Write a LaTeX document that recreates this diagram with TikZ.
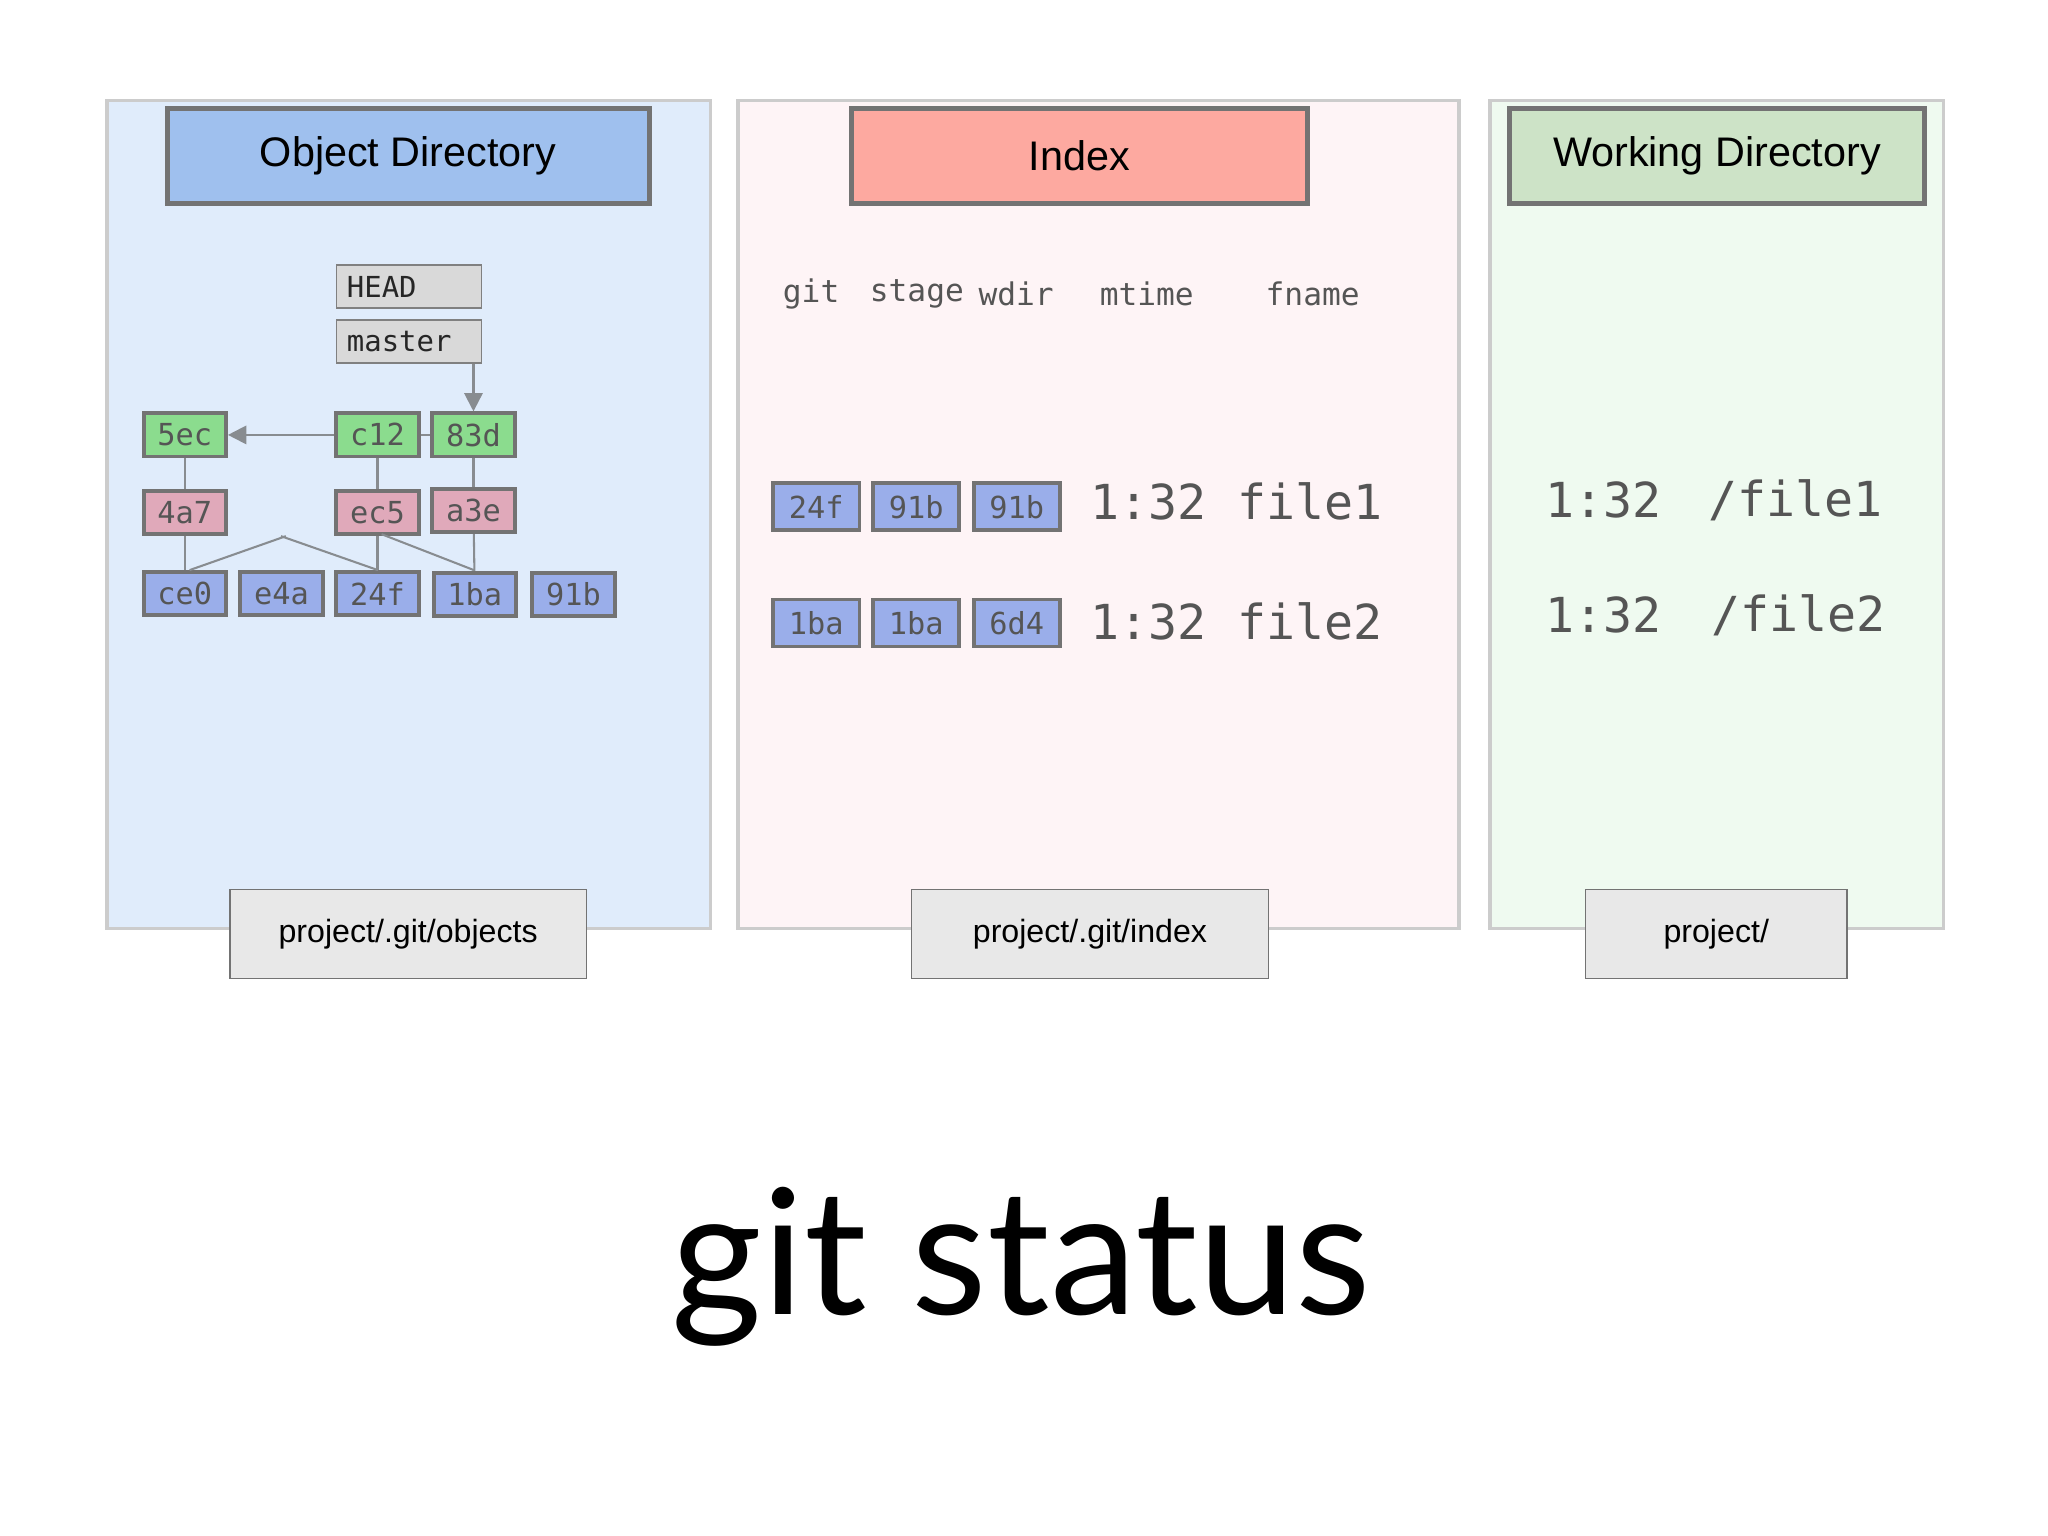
\documentclass[tikz,border=0pt]{standalone}
\usepackage{fontspec}
\setmainfont{Liberation Sans}
\setmonofont{DejaVu Sans Mono}
\newfontfamily\titlefont{Lato}
\usetikzlibrary{positioning,arrows.meta}
\definecolor{objbg}{HTML}{E0ECFB}
\definecolor{objhead}{HTML}{9FC0EE}
\definecolor{idxbg}{HTML}{FEF4F6}
\definecolor{idxhead}{HTML}{FDA9A0}
\definecolor{wdbg}{HTML}{EFFAF0}
\definecolor{wdhead}{HTML}{CDE3C7}
\definecolor{cgreen}{HTML}{8BDC8E}
\definecolor{tpink}{HTML}{E0A9BA}
\definecolor{bblue}{HTML}{9AAEEA}
\definecolor{edgegray}{HTML}{888C90}
\definecolor{txtgray}{HTML}{555555}
\tikzset{
  panel/.style={draw=black!20, line width=0.8pt},
  header/.style={draw=black!55, line width=1.1pt, font=\fontsize{9}{11}\selectfont},
  footer/.style={draw=black!55, fill=black!9, line width=0.35pt, font=\fontsize{7}{9}\selectfont},
  ref/.style={draw=black!50, fill=black!15, line width=0.35pt, anchor=west,
    minimum width=1.11cm, minimum height=0.33cm, text width=0.95cm, align=left, inner sep=0pt,
    font=\ttfamily\fontsize{6.3}{7}\selectfont, text=black!85},
  hash/.style={draw=black!55, line width=0.85pt, minimum width=0.63cm, minimum height=0.33cm,
    inner sep=0pt, font=\ttfamily\fontsize{6.6}{8}\selectfont, text=txtgray},
  commit/.style={hash, fill=cgreen},
  tree/.style={hash, fill=tpink},
  blob/.style={hash, fill=bblue},
  link/.style={draw=edgegray, line width=0.45pt},
  point/.style={link, -{Triangle[length=4pt,width=4pt]}},
  colhead/.style={font=\ttfamily\fontsize{6.8}{8}\selectfont, text=txtgray},
  big/.style={font=\ttfamily\fontsize{10.5}{12}\selectfont, text=txtgray}
}
\begin{document}
\begin{tikzpicture}[x=0.01cm, y=-0.01cm]
  \useasboundingbox (0,0) rectangle (1568,1176);

  % panels
  \draw[panel, fill=objbg] (82,77) rectangle (544,711);
  \draw[panel, fill=idxbg] (565,77) rectangle (1117,711);
  \draw[panel, fill=wdbg] (1141,77) rectangle (1488,711);

  \node[header, fill=objhead, minimum width=3.69cm, minimum height=0.73cm] (objtitle) at (312.5,119.5) {Object Directory};
  \node[header, fill=idxhead, minimum width=3.49cm, minimum height=0.73cm] (idxtitle) at (826.5,119.5) {Index};
  \node[header, fill=wdhead, minimum width=3.17cm, minimum height=0.73cm] (wdtitle) at (1314.5,119.5) {Working Directory};

  \node[footer, minimum width=2.73cm, minimum height=0.68cm] (objpath) at (312.5,715) {project/.git/objects};
  \node[footer, minimum width=2.73cm, minimum height=0.68cm] (idxpath) at (834.5,715) {project/.git/index};
  \node[footer, minimum width=2.00cm, minimum height=0.68cm] (wdpath) at (1314,715) {project/};

  % object graph
  \node[ref] (head) at (257,219.5) {HEAD};
  \node[ref] (master) at (257,261.5) {master};

  \node[commit] (c5ec) at (141.5,333) {5ec};
  \node[commit] (c12) at (289,333) {c12};
  \node[commit] (c83d) at (362.5,333) {83d};
  \node[tree] (t4a7) at (141.5,392.5) {4a7};
  \node[tree] (tec5) at (289,392.5) {ec5};
  \node[tree] (ta3e) at (362.5,391) {a3e};
  \node[blob] (bce0) at (141.5,454.5) {ce0};
  \node[blob] (be4a) at (215.5,454.5) {e4a};
  \node[blob] (b24f) at (289,454.5) {24f};
  \node[blob] (b1ba) at (363.5,455) {1ba};
  \node[blob] (b91b) at (439,455) {91b};

  \draw[point] (master.south -| c83d) -- (c83d.north);
  \draw[point] (c12) -- (c5ec);
  \draw[link] (c12) -- (c83d);
  \draw[link] (c5ec) -- (t4a7);
  \draw[link] (c12) -- (tec5);
  \draw[link] (c83d) -- (ta3e);
  \draw[link] (t4a7) -- (bce0);
  \draw[link] ([xshift=22]t4a7.south) -- ([xshift=-20]be4a.north);
  \draw[link] ([xshift=-21]tec5.south) -- ([xshift=21]be4a.north);
  \draw[link] (tec5) -- (b24f);
  \draw[link] ([xshift=-20]ta3e.south) -- ([xshift=21]b24f.north);
  \draw[link] (ta3e) -- (b1ba);

  % index
  \node[colhead] (hgit) at (621,225) {git};
  \node[colhead] (hstage) at (702,225) {stage};
  \node[colhead] (hwdir) at (778,225) {wdir};
  \node[colhead] (hmtime) at (878,225) {mtime};
  \node[colhead] (hfname) at (1005,225) {fname};

  \node[blob, minimum width=0.66cm, minimum height=0.36cm] (i1git) at (625,388) {24f};
  \node[blob, minimum width=0.66cm, minimum height=0.36cm] (i1stage) at (701.5,388) {91b};
  \node[blob, minimum width=0.66cm, minimum height=0.36cm] (i1wdir) at (778.5,388) {91b};
  \node[big] (i1time) at (879,384) {1:32};
  \node[big] (i1name) at (1003,384) {file1};
  \node[blob, minimum width=0.66cm, minimum height=0.36cm] (i2git) at (625,477) {1ba};
  \node[blob, minimum width=0.66cm, minimum height=0.36cm] (i2stage) at (701.5,477) {1ba};
  \node[blob, minimum width=0.66cm, minimum height=0.36cm] (i2wdir) at (778.5,477) {6d4};
  \node[big] (i2time) at (879,476) {1:32};
  \node[big] (i2name) at (1003,476) {file2};

  % working directory
  \node[big] (w1time) at (1228,383) {1:32};
  \node[big] (w1name) at (1375,383) {/file1};
  \node[big] (w2time) at (1228,471) {1:32};
  \node[big] (w2name) at (1377,471) {/file2};

  \node[font=\titlefont\fontsize{38}{42}\selectfont] (cmd) at (782,970) {git status};
\end{tikzpicture}
\end{document}
